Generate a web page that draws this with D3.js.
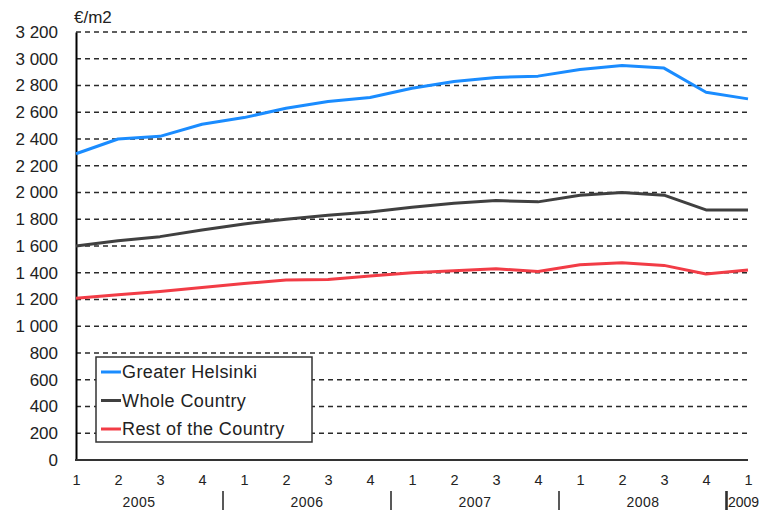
<!DOCTYPE html>
<html>
<head>
<meta charset="utf-8">
<script src="https://cdn.jsdelivr.net/npm/d3@7"></script>
<style>
  html, body { margin: 0; padding: 0; background: #fff; }
  svg { display: block; font-family: "Liberation Sans", Arial, sans-serif; }
</style>
</head>
<body>
<svg id="chart" width="766" height="513"></svg>
<script>
// Quarterly periods 2005 Q1 – 2009 Q1
const quarters = ["1","2","3","4","1","2","3","4","1","2","3","4","1","2","3","4","1"];
const years = ["2005","2006","2007","2008","2009"];

// Average price, €/m2
const greaterHelsinki = [2290, 2400, 2420, 2510, 2560, 2630, 2680, 2710, 2780, 2830, 2860, 2870, 2920, 2950, 2930, 2750, 2700];
const wholeCountry    = [1600, 1640, 1670, 1720, 1765, 1800, 1830, 1855, 1890, 1920, 1940, 1930, 1980, 2000, 1980, 1870, 1870];
const restOfCountry   = [1210, 1235, 1260, 1290, 1320, 1345, 1350, 1375, 1400, 1415, 1430, 1410, 1460, 1475, 1455, 1390, 1420];

const yTicks = d3.range(0, 3201, 200);
const seriesNames = ["Greater Helsinki", "Whole Country", "Rest of the Country"];
const seriesColors = ["#1a8cff", "#404040", "#f23c46"];
const seriesValues = [greaterHelsinki, wholeCountry, restOfCountry];

const svg = d3.select("#chart");
const plotLeft = 76, plotRight = 748, plotTop = 32, plotBottom = 460;

const x = d3.scaleLinear().domain([0, quarters.length - 1]).range([plotLeft, plotRight]);
const y = d3.scaleLinear().domain([0, 3200]).range([plotBottom, plotTop]);

// Dashed horizontal gridlines
svg.append("g").selectAll("line")
  .data(yTicks.filter(d => d > 0))
  .join("line")
  .attr("x1", plotLeft).attr("x2", plotRight)
  .attr("y1", d => y(d)).attr("y2", d => y(d))
  .attr("stroke", "#2a2a2a").attr("stroke-width", 1.7)
  .attr("stroke-dasharray", "5,4");

// Y axis with space-separated thousands
const fmt = v => v >= 1000 ? Math.floor(v / 1000) + " " + String(v % 1000).padStart(3, "0") : String(v);
const yAxis = d3.axisLeft(y).tickValues(yTicks).tickFormat(fmt).tickSize(0).tickPadding(18);
const yg = svg.append("g").attr("transform", `translate(${plotLeft},0)`).call(yAxis);
yg.select(".domain").attr("stroke", "#000").attr("stroke-width", 2);
yg.selectAll("text").attr("font-size", 17).attr("fill", "#222")
  .attr("font-family", "'Liberation Sans', Arial, sans-serif");

// X axis baseline
svg.append("line")
  .attr("x1", plotLeft - 1).attr("x2", plotRight)
  .attr("y1", plotBottom).attr("y2", plotBottom)
  .attr("stroke", "#333").attr("stroke-width", 2);

// Quarter labels
const xAxis = d3.axisBottom(x).tickValues(d3.range(quarters.length))
  .tickFormat(i => quarters[i]).tickSize(0).tickPadding(15);
const xg = svg.append("g").attr("transform", `translate(0,${plotBottom})`).call(xAxis);
xg.select(".domain").remove();
xg.selectAll("text").attr("font-size", 14.5).attr("fill", "#222")
  .attr("font-family", "'Liberation Sans', Arial, sans-serif");

// Year labels and separators
const yearG = svg.append("g").attr("font-size", 14).attr("fill", "#222");
years.slice(0, 4).forEach((yr, k) => {
  const c = (x(k * 4) + x(k * 4 + 3)) / 2;
  yearG.append("text").attr("x", c).attr("y", 507)
    .attr("text-anchor", "middle").attr("letter-spacing", 0.5).text(yr);
  const sep = (x(k * 4 + 3) + x(k * 4 + 4)) / 2;
  yearG.append("line")
    .attr("x1", sep).attr("x2", sep).attr("y1", 491).attr("y2", 510)
    .attr("stroke", "#222").attr("stroke-width", 1.5);
});
// Final year, starting at the last separator
yearG.append("line")
  .attr("x1", x(16) - 22).attr("x2", x(16) - 22).attr("y1", 491).attr("y2", 510)
  .attr("stroke", "#222").attr("stroke-width", 1.5);
yearG.append("text").attr("x", x(16) - 20).attr("y", 507)
  .attr("text-anchor", "start").text(years[4]);

// Unit label
svg.append("text").attr("x", 74).attr("y", 23)
  .attr("font-size", 17).attr("fill", "#222").text("€/m2");

// Series lines
const line = d3.line().x((d, i) => x(i)).y(d => y(d));
svg.append("g").selectAll("path")
  .data(seriesValues)
  .join("path")
  .attr("d", line)
  .attr("fill", "none")
  .attr("stroke", (d, i) => seriesColors[i])
  .attr("stroke-width", 3)
  .attr("stroke-linejoin", "round");

// Legend
const lg = svg.append("g");
lg.append("rect").attr("x", 96).attr("y", 357).attr("width", 216).attr("height", 85)
  .attr("fill", "#fff").attr("stroke", "#333").attr("stroke-width", 1.5);
seriesNames.forEach((name, i) => {
  const cy = 372 + i * 28.5;
  lg.append("line").attr("x1", 101).attr("x2", 121).attr("y1", cy).attr("y2", cy)
    .attr("stroke", seriesColors[i]).attr("stroke-width", 3);
  lg.append("text").attr("x", 122).attr("y", cy + 6)
    .attr("font-size", 18).attr("letter-spacing", 0.4).attr("fill", "#222").text(name);
});
</script>
</body>
</html>
